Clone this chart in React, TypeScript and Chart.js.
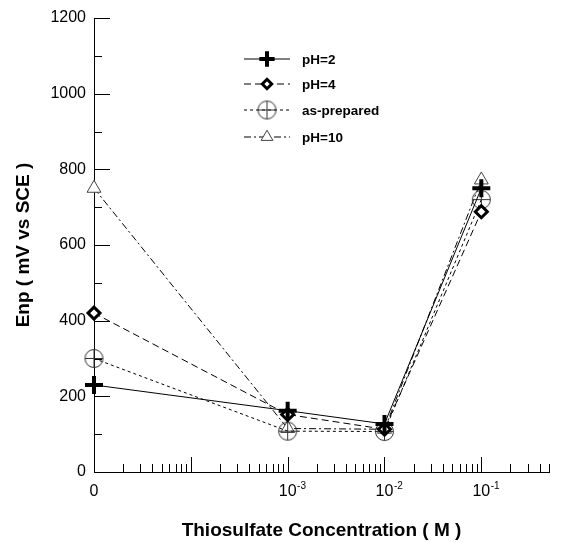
import { useEffect, useRef } from "react";
import { Chart, registerables } from "chart.js";

Chart.register(...registerables);

// Thiosulfate concentration (M); 0 is drawn at the left end of the log axis
const concentrations = [0, 1e-3, 1e-2, 1e-1];
const ZERO_POSITION = 1e-5;
const X_MAX = 0.5;

const ph2 = [230, 162, 127, 750];
const ph4 = [420, 152, 113, 688];
const asPrepared = [300, 108, 107, 720];
const ph10 = [750, 115, 113, 772];

const seriesNames = ["pH=2", "pH=4", "as-prepared", "pH=10"];

const xTickValues = [1e-5, 1e-4, 1e-3, 1e-2, 1e-1];
const xTickLabels = ["0", "", "10", "10", "10"];
const xTickExponents = ["", "", "-3", "-2", "-1"];
const yMin = 0;
const yMax = 1200;
const yStep = 200;

const FONT = "'Liberation Sans', Arial, sans-serif";

function circlePlus(): HTMLCanvasElement {
  const c = document.createElement("canvas");
  c.width = 21;
  c.height = 21;
  const g = c.getContext("2d")!;
  g.strokeStyle = "#333";
  g.lineWidth = 1;
  g.beginPath();
  g.arc(10.5, 10.5, 9, 0, Math.PI * 2);
  g.moveTo(1.5, 10.5);
  g.lineTo(19.5, 10.5);
  g.moveTo(10.5, 1.5);
  g.lineTo(10.5, 19.5);
  g.stroke();
  return c;
}

const toPoints = (vals: number[]) =>
  vals.map((v, i) => ({ x: concentrations[i] === 0 ? ZERO_POSITION : concentrations[i], y: v }));

// tick marks on the inner side of both axes, plus the decade exponents
const innerTicks = {
  id: "innerTicks",
  afterDatasetsDraw(chart: any) {
    const { ctx, chartArea, scales } = chart;
    const x = scales.x;
    const y = scales.y;
    ctx.save();
    ctx.strokeStyle = "#000";
    ctx.lineWidth = 1;
    ctx.beginPath();
    for (let v = yMin + 100; v <= yMax; v += 100) {
      const py = Math.round(y.getPixelForValue(v)) + 0.5;
      const len = v % 200 === 0 ? 16 : 8;
      ctx.moveTo(chartArea.left, py);
      ctx.lineTo(chartArea.left + len, py);
    }
    for (let e = -5; e <= -1; e++) {
      for (let m = 1; m <= 9; m++) {
        const v = m * Math.pow(10, e);
        if (v <= ZERO_POSITION || v > X_MAX * 1.0001) continue;
        const px = Math.round(x.getPixelForValue(v)) + 0.5;
        const len = m === 1 ? 15 : 8;
        ctx.moveTo(px, chartArea.bottom);
        ctx.lineTo(px, chartArea.bottom - len);
      }
    }
    ctx.stroke();

    // superscript exponents next to the "10" tick labels
    ctx.fillStyle = "#000";
    ctx.textAlign = "left";
    ctx.textBaseline = "alphabetic";
    xTickValues.forEach((v, i) => {
      const exp = xTickExponents[i];
      if (!exp) return;
      ctx.font = `16px ${FONT}`;
      const w = ctx.measureText(xTickLabels[i]).width;
      const px = x.getPixelForValue(v);
      ctx.font = `10px ${FONT}`;
      ctx.fillText(exp, px + w / 2 + 0.5, chartArea.bottom + 17);
    });
    ctx.restore();
  },
};

function drawMarker(ctx: CanvasRenderingContext2D, style: any, cx: number, cy: number, r: number, lw: number, stroke: string) {
  if (style instanceof HTMLCanvasElement) {
    ctx.drawImage(style, cx - style.width / 2, cy - style.height / 2);
    return;
  }
  ctx.save();
  ctx.strokeStyle = stroke;
  ctx.fillStyle = "#fff";
  ctx.lineWidth = lw;
  ctx.beginPath();
  if (style === "cross") {
    ctx.moveTo(cx - r, cy);
    ctx.lineTo(cx + r, cy);
    ctx.moveTo(cx, cy - r);
    ctx.lineTo(cx, cy + r);
    ctx.stroke();
  } else if (style === "rectRot") {
    const d = r * Math.SQRT1_2 * 1.3;
    ctx.moveTo(cx, cy - d);
    ctx.lineTo(cx + d, cy);
    ctx.lineTo(cx, cy + d);
    ctx.lineTo(cx - d, cy);
    ctx.closePath();
    ctx.fill();
    ctx.stroke();
  } else if (style === "triangle") {
    for (let k = 0; k < 3; k++) {
      const a = (k * 2 * Math.PI) / 3;
      const px = cx + Math.sin(a) * r;
      const py = cy - Math.cos(a) * r;
      if (k === 0) ctx.moveTo(px, py);
      else ctx.lineTo(px, py);
    }
    ctx.closePath();
    ctx.fill();
    ctx.stroke();
  }
  ctx.restore();
}

const legendBox = {
  id: "legendBox",
  afterDraw(chart: any) {
    const { ctx } = chart;
    const x0 = 244;
    const x1 = 290;
    const rowY = [59, 84, 110, 137];
    ctx.save();
    chart.data.datasets.forEach((ds: any, i: number) => {
      const yy = rowY[i];
      ctx.strokeStyle = "#000";
      ctx.lineWidth = 1;
      ctx.setLineDash(ds.borderDash || []);
      ctx.beginPath();
      ctx.moveTo(x0, yy);
      ctx.lineTo(x1, yy);
      ctx.stroke();
      ctx.setLineDash([]);
      const cx = (x0 + x1) / 2;
      drawMarker(ctx, ds.pointStyle, cx, yy, ds.pointRadius * 0.85, ds.pointBorderWidth, ds.pointBorderColor);
      ctx.fillStyle = "#000";
      ctx.font = `bold 13.5px ${FONT}`;
      ctx.textBaseline = "middle";
      ctx.textAlign = "left";
      ctx.fillText(seriesNames[i], 302, yy + 1);
    });
    ctx.restore();
  },
};

export default function App() {
  const ref = useRef<HTMLCanvasElement | null>(null);

  useEffect(() => {
    document.body.style.margin = "0";
    const marker = circlePlus();
    const common = {
      borderColor: "#000",
      borderWidth: 1,
      pointBorderColor: "#000",
      pointBackgroundColor: "#fff",
      fill: false,
      tension: 0,
      clip: false,
    };
    const chart = new Chart(ref.current!, {
      type: "line",
      data: {
        datasets: [
          {
            ...common,
            label: seriesNames[0],
            data: toPoints(ph2),
            borderDash: [],
            pointStyle: "cross",
            pointRadius: 9,
            pointBorderWidth: 4,
          },
          {
            ...common,
            label: seriesNames[1],
            data: toPoints(ph4),
            borderDash: [7, 4],
            pointStyle: "rectRot",
            pointRadius: 6,
            pointBorderWidth: 3,
          },
          {
            ...common,
            label: seriesNames[2],
            data: toPoints(asPrepared),
            borderDash: [3, 3],
            pointStyle: marker as any,
            pointRadius: 9,
            pointBorderWidth: 1,
          },
          {
            ...common,
            label: seriesNames[3],
            data: toPoints(ph10),
            borderDash: [7, 3, 2, 3],
            pointStyle: "triangle",
            pointRadius: 8,
            pointBorderWidth: 1,
            pointBorderColor: "#444",
          },
        ],
      },
      options: {
        animation: false,
        responsive: false,
        devicePixelRatio: 1,
        layout: { padding: { top: 18, right: 2, left: 0, bottom: 0 } },
        plugins: { legend: { display: false }, tooltip: { enabled: false } },
        scales: {
          x: {
            type: "logarithmic",
            min: ZERO_POSITION,
            max: X_MAX,
            grid: { display: false, drawTicks: false },
            border: { display: true, color: "#000", width: 1 },
            afterBuildTicks(scale: any) {
              scale.ticks = xTickValues.map((v) => ({ value: v }));
            },
            afterFit(scale: any) {
              scale.height = 70;
            },
            ticks: {
              autoSkip: false,
              maxRotation: 0,
              padding: 10,
              color: "#000",
              font: { family: FONT, size: 16 },
              callback: (_v: any, i: number) => xTickLabels[i],
            },
            title: {
              display: true,
              text: "Thiosulfate Concentration ( M )",
              color: "#000",
              font: { family: FONT, size: 19, weight: "bold" },
              padding: { top: 0, bottom: 0 },
            },
          },
          y: {
            type: "linear",
            min: yMin,
            max: yMax,
            grid: { display: false, drawTicks: false },
            border: { display: true, color: "#000", width: 1 },
            afterFit(scale: any) {
              scale.width = 94;
            },
            ticks: {
              stepSize: yStep,
              padding: 8,
              color: "#000",
              font: { family: FONT, size: 16 },
              callback: (v: any) => String(v),
            },
            title: {
              display: true,
              text: "Enp ( mV vs SCE )",
              color: "#000",
              font: { family: FONT, size: 19, weight: "bold" },
              padding: { top: 12, bottom: 0 },
            },
          },
        },
      },
      plugins: [innerTicks, legendBox],
    } as any);
    return () => chart.destroy();
  }, []);

  return (
    <div style={{ position: "absolute", left: 0, top: 0, width: 562, height: 542, background: "#fff" }}>
      <canvas ref={ref} width={562} height={542} />
    </div>
  );
}
